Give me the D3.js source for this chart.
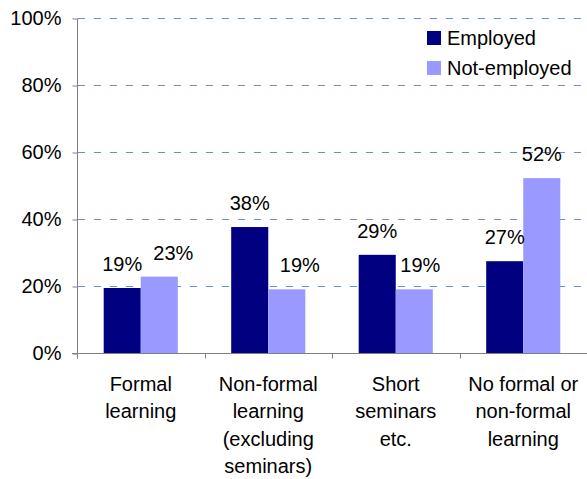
<!DOCTYPE html>
<html>
<head>
<meta charset="utf-8">
<script src="https://cdn.jsdelivr.net/npm/d3@7"></script>
<style>
    body { margin: 0; background: #fff; }
    svg text { font-family: "Liberation Sans", Arial, sans-serif; fill: #000; }
</style>
</head>
<body>
<div id="container"><svg></svg></div>
<script>
let categories = [
    ['Formal', 'learning'],
    ['Non-formal', 'learning', '(excluding', 'seminars)'],
    ['Short', 'seminars', 'etc.'],
    ['No formal or', 'non-formal', 'learning']
];
let series_names = ['Employed', 'Not-employed'];
let employed = [19.4, 37.6, 29.3, 27.4];
let not_employed = [22.8, 19.0, 19.0, 52.2];
let y_ticks = [0, 20, 40, 60, 80, 100];
let colors = ['#000080', '#9999ff'];
// nudge of the not-employed labels so they clear their neighbour (style only)
let label_shift = [14, 13, 6, 0];
let font_size = '20px';

function draw_main(width, height) {
    let padding = {'left': 77, 'right': 0, 'top': 18, 'bottom': height - 353};
    let svg = d3.select('#container').select('svg')
        .attr('width', width)
        .attr('height', height);

    let cat_idx = categories.map((d, i) => i);
    let x0 = d3.scaleBand()
        .domain(cat_idx)
        .range([padding.left, width - padding.right])
        .padding(0);
    let x1 = d3.scaleBand()
        .domain([0, 1])
        .range([0, x0.bandwidth()])
        .paddingInner(0)
        .paddingOuter(0.72);
    let y = d3.scaleLinear()
        .domain([0, 100])
        .range([height - padding.bottom, padding.top]);

    // grid lines
    svg.append('g')
        .selectAll('line')
        .data(y_ticks.filter(d => d > 0))
        .enter().append('line')
        .attr('x1', padding.left + 1)
        .attr('x2', width - padding.right)
        .attr('y1', d => Math.round(y(d)) + 0.5)
        .attr('y2', d => Math.round(y(d)) + 0.5)
        .attr('stroke', '#6688f0')
        .attr('stroke-width', 1)
        .attr('stroke-dasharray', '7,9');

    // bars
    let rows = [];
    cat_idx.forEach(i => {
        rows.push({cat: i, s: 0, v: employed[i]});
        rows.push({cat: i, s: 1, v: not_employed[i]});
    });
    svg.append('g')
        .selectAll('rect')
        .data(rows)
        .enter().append('rect')
        .attr('x', d => x0(d.cat) + x1(d.s))
        .attr('y', d => y(d.v))
        .attr('width', x1.bandwidth())
        .attr('height', d => y(0) - y(d.v))
        .attr('fill', d => colors[d.s]);

    // value labels
    svg.append('g')
        .selectAll('text')
        .data(rows)
        .enter().append('text')
        .attr('x', d => x0(d.cat) + x1(d.s) + x1.bandwidth() / 2 + (d.s == 1 ? label_shift[d.cat] : 0))
        .attr('y', d => y(d.v) - 17)
        .attr('text-anchor', 'middle')
        .attr('font-size', font_size)
        .text(d => Math.round(d.v) + '%');

    // y axis
    let axis_y = d3.axisLeft(y)
        .tickValues(y_ticks)
        .tickSize(5)
        .tickPadding(11)
        .tickFormat(d => d + '%');
    let gy = svg.append('g')
        .attr('transform', `translate(${padding.left + 0.5}, 0.5)`)
        .call(axis_y);
    gy.select('.domain').remove();
    gy.append('line')
        .attr('x1', 0).attr('x2', 0)
        .attr('y1', y(100)).attr('y2', y(0) + 5)
        .attr('stroke', '#808080');
    gy.selectAll('.tick line').attr('stroke', '#808080');
    gy.selectAll('.tick text')
        .attr('font-size', font_size)
        .attr('fill', '#000');

    // x axis
    let gx = svg.append('g').attr('transform', `translate(0, ${Math.round(y(0)) + 0.5})`);
    gx.append('line')
        .attr('x1', padding.left - 5).attr('x2', width - padding.right)
        .attr('stroke', '#808080');
    gx.selectAll('.xtick')
        .data(cat_idx.slice(1).concat([categories.length]))
        .enter().append('line')
        .attr('x1', d => Math.round(padding.left + d * x0.step()) + 0.5)
        .attr('x2', d => Math.round(padding.left + d * x0.step()) + 0.5)
        .attr('y1', 0).attr('y2', 5)
        .attr('stroke', '#808080');

    // category labels
    let gl = svg.append('g');
    categories.forEach((lines, i) => {
        let t = gl.append('text')
            .attr('text-anchor', 'middle')
            .attr('font-size', font_size);
        lines.forEach((ln, j) => {
            t.append('tspan')
                .attr('x', x0(i) + x0.bandwidth() / 2)
                .attr('y', 391 + j * 27.4)
                .text(ln);
        });
    });

    // legend
    let lg = svg.append('g').attr('transform', 'translate(427, 31)');
    series_names.forEach((name, i) => {
        lg.append('rect')
            .attr('x', 0).attr('y', i * 30)
            .attr('width', 14).attr('height', 14)
            .attr('fill', colors[i]);
        lg.append('text')
            .attr('x', 20).attr('y', i * 30 + 14)
            .attr('font-size', font_size)
            .text(name);
    });
}

draw_main(587, 479);
</script>
</body>
</html>
